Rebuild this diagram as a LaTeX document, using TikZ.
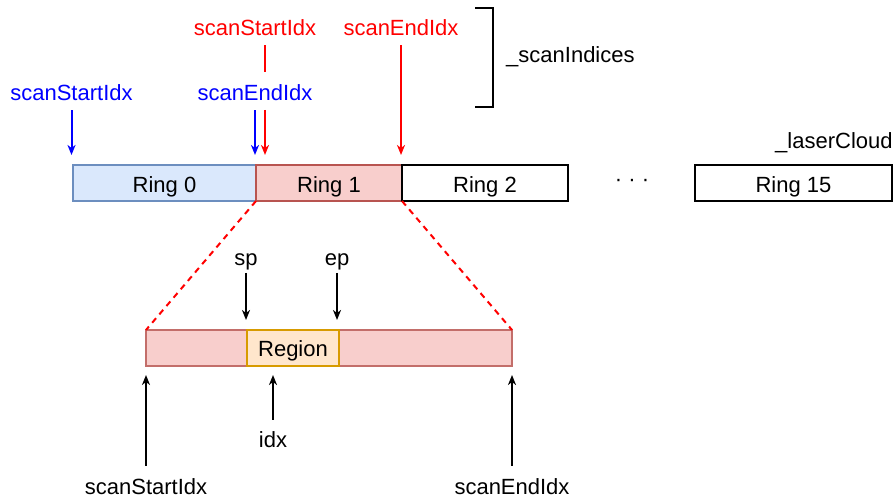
\documentclass[tikz,border=0pt]{standalone}
\usepackage{fontspec}
\setmainfont{Liberation Sans}
\usetikzlibrary{arrows.meta}

\definecolor{ringbluefill}{HTML}{DAE8FC}
\definecolor{ringblueline}{HTML}{6C8EBF}
\definecolor{ringredfill}{HTML}{F8CECC}
\definecolor{ringredline}{HTML}{B85450}
\definecolor{regionfill}{HTML}{FFE6CC}
\definecolor{regionline}{HTML}{D79B00}
\definecolor{idxblue}{HTML}{0000FF}
\definecolor{idxred}{HTML}{FF0000}

\begin{document}
\begin{tikzpicture}[x=1pt, y=1pt,
  font=\fontsize{22}{26}\selectfont,
  cell/.style={draw, line width=1.3pt, minimum height=36pt, inner sep=0pt,
               outer sep=0pt, anchor=west, text height=18pt, text depth=0pt},
  lbl/.style={inner sep=0pt, anchor=base},
  arr/.style={line width=2pt, -{Stealth[length=10pt, width=8pt, inset=3pt]}},
  zoomline/.style={idxred, line width=2pt, dash pattern=on 6pt off 5pt}
]
\useasboundingbox (0,0) rectangle (893,-500);

% ring buffers of the laser cloud
\node[cell, fill=ringbluefill, draw=ringblueline, minimum width=183pt] (ring0) at (73,-183) {Ring 0};
\node[cell, fill=ringredfill, draw=ringredline, minimum width=146pt] (ring1) at (256,-183) {Ring 1};
\node[cell, fill=white, draw=black, minimum width=166pt] (ring2) at (402,-183) {Ring 2};
\node[cell, fill=white, draw=black, minimum width=197pt] (ring15) at (695,-183) {Ring 15};
\node (dots) at (632,-183) {· · ·};
\node[lbl, anchor=base west] (laser) at (775,-148) {\_laserCloud};

% scan index pairs
\node[lbl, text=idxblue] (bss) at (71.5,-100) {scanStartIdx};
\node[lbl, text=idxblue] (bse) at (255,-100) {scanEndIdx};
\node[lbl, text=idxred] (rss) at (255,-36) {scanStartIdx};
\node[lbl, text=idxred] (rse) at (401,-36) {scanEndIdx};

\draw[line width=2.5pt] (475,-8) -- (493,-8) -- (493,-107) -- (475,-107);
\node[lbl, anchor=base west] (scanidx) at (506,-63) {\_scanIndices};

\draw[arr, idxblue, shorten <=10pt, shorten >=10pt] (bss.south) -- (bss.south |- ring0.north);
\draw[arr, idxblue, shorten <=10pt, shorten >=10pt] (bse.south) -- (bse.south |- ring1.north);

\coordinate (rbreakA) at (265,-72);
\coordinate (rbreakB) at (265,-110);
\draw[idxred, line width=2pt, shorten <=9pt] (rss.south -| rbreakA) -- (rbreakA);
\draw[arr, idxred, shorten >=10pt] (rbreakB) -- (rbreakB |- ring1.north);
\draw[arr, idxred, shorten <=9pt, shorten >=10pt] (rse.south) -- (rse.south |- ring2.north);

% expanded view of one ring
\node[cell, fill=ringredfill, draw=ringredline!85, minimum width=366pt] (bar) at (146,-348) {};
\node[cell, fill=regionfill, draw=regionline, minimum width=92pt, text height=16pt] (region) at (247,-348) {Region};

\draw[zoomline] (ring1.south west) -- (bar.north west);
\draw[zoomline] (ring1.south east) -- (bar.north east);

\node[lbl] (sp) at (246,-265) {sp};
\node[lbl] (ep) at (337,-265) {ep};
\draw[arr, shorten <=3pt, shorten >=10pt] (sp.south) -- (sp.south |- region.north);
\draw[arr, shorten <=3pt, shorten >=10pt] (ep.south) -- (ep.south |- region.north);

\node[lbl] (idx) at (273,-447) {idx};
\draw[arr, shorten <=11pt, shorten >=9pt] (idx.north) -- (idx.north |- bar.south);

\node[lbl] (bstart) at (146,-494) {scanStartIdx};
\node[lbl] (bend) at (512,-494) {scanEndIdx};
\draw[arr, shorten <=12pt, shorten >=9pt] (bstart.north) -- (bstart.north |- bar.south);
\draw[arr, shorten <=12pt, shorten >=9pt] (bend.north) -- (bend.north |- bar.south);
\end{tikzpicture}
\end{document}
